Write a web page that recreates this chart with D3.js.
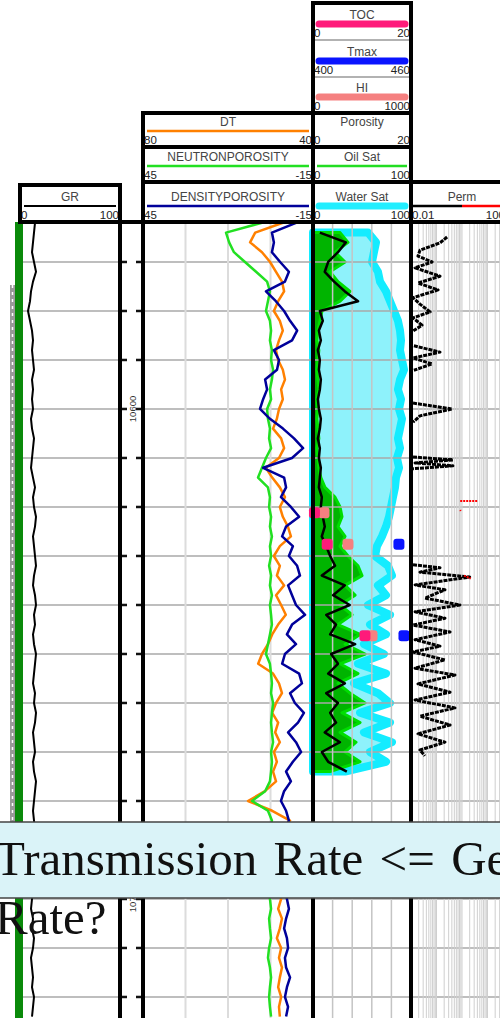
<!DOCTYPE html>
<html>
<head>
<meta charset="utf-8">
<title>Well log</title>
<script src="https://cdn.jsdelivr.net/npm/d3@7/dist/d3.min.js"></script>
<style>
  html, body { margin: 0; padding: 0; background: #fff; overflow: hidden; }
  svg { display: block; }
</style>
</head>
<body>
<div id="chart"></div>
<script>
// curve names, header scales
const curveNames = ["GR", "DT", "NEUTRONPOROSITY", "DENSITYPOROSITY", "TOC", "Tmax", "HI", "Porosity", "Oil Sat", "Water Sat", "Perm"];
const scaleLeft  = [0, 80, 45, 45, 0, 400, 0, 0, 0, 0, 0.01];
const scaleRight = [100, 40, -15, -15, 20, 460, 1000, 20, 100, 100, 100];

// depth axis (ft)
const depthTop = 10561.84, depthBase = 10724.29;
const depthTicks = [10570, 10580, 10590, 10600, 10610, 10620, 10630, 10640, 10650, 10660, 10670, 10680, 10690, 10700, 10710, 10720];
const depthLabels = [10600, 10700];

// open hole logs, sampled every 2 ft
const depth = [10562,10564,10566,10568,10570,10572,10574,10576,10578,10580,
  10582,10584,10586,10588,10590,10592,10594,10596,10598,10600,
  10602,10604,10606,10608,10610,10612,10614,10616,10618,10620,
  10622,10624,10626,10628,10630,10632,10634,10636,10638,10640,
  10642,10644,10646,10648,10650,10652,10654,10656,10658,10660,
  10662,10664,10666,10668,10670,10672,10674,10676,10678,10680,
  10682,10684,10686,10688,10690,10692,10694,10696,10698,10700,
  10702,10704,10706,10708,10710,10712,10714,10716,10718,10720,
  10722,10724];
const gr = [15,14,13,12,14,16,13,11,10,8,
  10,12,13,12,13,14,12,13,12,13,
  11,12,14,13,12,11,13,15,13,14,
  16,15,13,14,15,16,14,13,15,16,
  14,15,13,14,16,15,14,13,15,14,
  16,15,13,14,15,13,14,16,15,14,
  13,14,15,13,14,12,13,14,13,12,
  11,13,12,14,13,11,12,13,12,14,
  13,12];
const dt = [47.1,53.6,54.8,52.0,50.1,48.7,47.3,46.8,48.2,49.2,
  47.8,47.1,48.0,48.7,48.2,47.1,46.6,47.5,47.1,48.0,
  48.5,49.4,47.5,46.8,48.0,51.1,49.6,47.8,46.6,47.8,
  47.1,45.9,45.2,47.8,49.2,47.8,48.5,46.8,48.7,47.5,
  46.4,48.2,49.6,50.6,52.0,52.9,49.4,48.0,47.3,48.7,
  49.6,48.2,48.9,47.8,49.2,48.5,49.4,48.7,51.3,55.3,
  49.6,45.4,47.3,48.0,47.5,48.2,47.8,47.3,48.0,47.5,
  48.2,47.3,47.8,48.5,47.5,48.0,47.3,47.8,48.2,47.5,
  48.0,47.8];
const nphi = [3.0,15.7,14.6,12.9,9.0,5.1,1.2,0.2,0.9,1.6,
  0.2,-0.2,0.2,-0.5,-0.2,-0.9,-0.5,0.2,-0.2,1.2,
  0.9,0.2,0.5,-0.2,1.6,3.0,4.4,0.9,0.2,0.5,
  -0.2,0.2,-0.5,0.2,-0.2,0.5,-0.2,0.2,-0.5,0.2,
  -0.2,-0.5,0.2,0.9,1.6,0.2,-0.2,-0.5,-0.2,-0.9,
  -0.5,-0.2,-0.5,-0.9,-0.2,-0.5,-0.2,0.2,1.9,6.5,
  0.9,-0.5,0.2,-0.2,0.5,0.2,-0.5,0.2,0.9,0.2,
  -0.2,0.5,0.2,-0.2,0.5,0.9,0.2,-0.2,0.2,0.5,
  0.2,-0.2];
const dphi = [-9.0,-0.5,-1.2,-0.5,-3.4,-6.5,-5.1,1.6,-1.9,-4.8,
  -6.9,-9.4,-7.6,-1.2,-3.0,-2.3,1.9,1.2,2.6,3.7,
  0.2,-4.4,-8.3,-11.5,-7.6,2.6,-4.8,-5.5,-3.7,-7.2,
  -10.1,-5.5,-4.1,-7.9,-6.5,-9.4,-10.4,-6.2,-7.6,-9.0,
  -12.2,-7.6,-5.8,-9.0,-5.1,-4.1,-10.1,-11.1,-6.9,-8.6,
  -11.8,-9.7,-6.2,-9.0,-10.8,-7.9,-5.5,-7.2,-4.8,-3.7,
  -5.5,-6.5,-5.1,-6.2,-5.8,-6.9,-5.5,-6.2,-5.1,-5.8,
  -6.5,-5.5,-4.8,-5.8,-6.2,-5.1,-5.5,-6.9,-5.8,-5.1,
  -6.2,-5.5];

// petrophysical interpretation, every 2 ft
const coreDepth = [10564,10566,10568,10570,10572,10574,10576,10578,10580,10582,
  10584,10586,10588,10590,10592,10594,10596,10598,10600,10602,
  10604,10606,10608,10610,10612,10614,10616,10618,10620,10622,
  10624,10626,10628,10630,10632,10634,10636,10638,10640,10642,
  10644,10646,10648,10650,10652,10654,10656,10658,10660,10662,
  10664,10666,10668,10670,10672,10674];
const waterSat = [56.1,64.3,62.2,60.2,66.3,68.4,74.5,78.6,82.7,86.7,
  88.8,89.8,88.8,90.8,92.9,88.8,86.7,89.8,87.8,90.8,
  88.8,86.7,88.8,85.7,87.8,84.7,83.7,81.6,79.6,77.6,
  74.5,70.4,65.3,63.3,76.5,80.6,66.3,74.5,56.1,78.6,
  58.2,74.5,52.0,72.4,45.9,74.5,41.8,66.3,78.6,48.0,
  78.6,52.0,80.6,58.2,74.5,32.7];
const oilSat = [27.6,35.7,22.4,32.7,17.3,25.5,37.8,27.6,9.2,7.1,
  5,4,6,5,4,5,6,4,5,4,
  5,6,4,5,6,8,12.2,22.4,27.6,29.6,
  25.5,32.7,27.6,35.7,45.9,50.0,32.7,42.9,27.6,39.8,
  25.5,48.0,32.7,53.1,27.6,45.9,25.5,37.8,53.1,29.6,
  48.0,27.6,43.9,32.7,48.0,17.3];
const porosity = [1.4,6.7,5.1,3.1,2.4,4.3,6.5,9.2,1.4,2.0,
  1.2,1.6,1.0,1.4,1.2,1.6,1.4,1.0,1.2,1.6,
  1.4,1.0,1.4,1.2,1.6,1.4,1.2,1.8,1.6,2.0,
  2.4,1.8,2.7,3.5,4.5,1.8,6.5,4.1,7.5,2.7,
  4.7,3.5,8.6,3.7,5.1,3.1,6.5,2.7,5.1,3.5,
  4.7,2.4,5.5,1.8,3.1,6.9];

// geochemistry samples
const tocDepth = [10621.2, 10627.6, 10646.3];
const toc = [0.3, 2.9, 10.6];
const hiDepth = [10621.2, 10627.6, 10646.3];
const hi = [112, 357, 602];
const tmaxDepth = [10627.6, 10646.3];
const tmax = [452.6, 455.7];

// permeability (null = gap)
const permDepth = [10564.9,10566.1,10567.6,10568.8,10570.0,10571.2,10572.9,10574.3,10575.7,10577.3,10578.6,10580.2,10581.4,10582.9,10584.1,null,
  10587.1,10588.4,10589.6,10590.8,10592.1,null,
  10598.8,10600.0,10601.4,10602.7,null,
  10609.8,10610.4,10611.0,10611.6,10612.2,null,
  10631.8,10632.4,10633.3,10634.3,10635.9,10636.9,10638.6,10640.0,10641.4,10642.7,10644.1,10645.5,10647.1,10648.4,10649.6,
  10651.2,10652.9,10654.3,10656.1,10657.8,10659.4,10661.0,10662.7,10664.5,10666.3,10668.0,10669.6,10670.8];
const perm = [0.26,0.137,0.0225,0.0188,0.067,0.0144,0.137,0.0188,0.115,0.012,0.0225,0.056,0.012,0.027,0.012,null,
  0.013,0.137,0.012,0.067,0.013,null,
  0.012,0.41,0.0225,0.012,null,
  0.012,0.44,0.0144,0.44,0.012,null,
  0.012,0.137,0.0225,2.0,0.0144,0.215,0.035,0.83,0.0144,0.215,0.012,0.34,0.0144,0.137,0.012,
  0.215,0.0144,0.53,0.0188,0.34,0.0144,0.53,0.0225,0.34,0.0188,0.215,0.0225,0.035];
const perm2Depth = [10618.8, 10618.8, null, 10620.6, 10620.8, null, 10634.0, 10634.6];
const perm2 = [0.85, 4.2, null, 0.85, 0.9, null, 1.2, 2.2];

// flag columns left of GR
const flagGreen = [10561.84, 10724.29];
const flagGray = [10574.7, 10692.0];

const width = 500, height = 1018;
const sans = "'Liberation Sans', Arial, sans-serif";

const svg = d3.select("#chart").append("svg")
  .attr("width", width)
  .attr("height", height);

svg.append("rect").attr("width", width).attr("height", height).attr("fill", "#fff");

const y = d3.scaleLinear().domain([depthTop, depthBase]).range([222, 1018]);

// header boxes: x0, x1, top, bottom, line colour, line width
const boxes = {
  "GR": [20, 120, 185, 222, "#000", 2],
  "DT": [143, 313, 113, 147, "#ff8000", 2.5],
  "NEUTRONPOROSITY": [143, 313, 147, 182, "#22e022", 2.5],
  "DENSITYPOROSITY": [143, 313, 182, 222, "#00009a", 2.5],
  "TOC": [313, 411, 3, 40, "#ff1a7a", 7],
  "Tmax": [313, 411, 40, 77, "#0a14ff", 7],
  "HI": [313, 411, 77, 113, "#f58080", 7],
  "Porosity": [313, 411, 113, 147, "#000", 0],
  "Oil Sat": [313, 411, 147, 182, "#22dd22", 2.5],
  "Water Sat": [313, 411, 182, 222, "#22eeff", 7],
  "Perm": [411, 513, 182, 222, "#000", 2.5]
};

const x = {};
curveNames.forEach((n, i) => {
  const b = boxes[n];
  x[n] = (n === "Perm" ? d3.scaleLog() : d3.scaleLinear())
    .domain([scaleLeft[i], scaleRight[i]])
    .range([b[0], b[1]]);
});

// flag columns
svg.append("rect")
  .attr("x", 15).attr("width", 8)
  .attr("y", y(flagGreen[0])).attr("height", y(flagGreen[1]) - y(flagGreen[0]))
  .attr("fill", "#0a8a0a");
svg.append("rect")
  .attr("x", 10).attr("width", 5)
  .attr("y", y(flagGray[0])).attr("height", y(flagGray[1]) - y(flagGray[0]))
  .attr("fill", "#999");
svg.append("line")
  .attr("x1", 12.5).attr("x2", 12.5)
  .attr("y1", y(flagGray[0])).attr("y2", y(flagGray[1]))
  .attr("stroke", "#fff").attr("stroke-width", 1.5).attr("stroke-dasharray", "3,4");

// saturation fills
const core = coreDepth.map((d, i) => ({d, sw: waterSat[i], so: oilSat[i], phi: porosity[i]}));

svg.append("path")
  .datum(core)
  .attr("d", d3.area().y(d => y(d.d)).x0(x["Water Sat"](0)).x1(d => x["Water Sat"](d.sw)))
  .attr("fill", "#8ef2fb")
  .attr("stroke", "#14ecff")
  .attr("stroke-width", 8)
  .attr("stroke-linejoin", "round");

svg.append("path")
  .datum(core)
  .attr("d", d3.area().y(d => y(d.d)).x0(x["Oil Sat"](0)).x1(d => x["Oil Sat"](d.so)))
  .attr("fill", "#00b400")
  .attr("stroke", "#00de00")
  .attr("stroke-width", 3)
  .attr("stroke-linejoin", "round");

// gridlines
const grid = svg.append("g");
const hSegments = [[23, 120], [143, 313], [313, 411], [411, 513]];
depthTicks.forEach(d => {
  hSegments.forEach(s => {
    grid.append("line")
      .attr("x1", s[0]).attr("x2", s[1])
      .attr("y1", y(d)).attr("y2", y(d))
      .attr("stroke", "#a8a8a8").attr("stroke-width", 1.5);
  });
});
[30, 15, 0].forEach(v => {
  grid.append("line")
    .attr("x1", x["NEUTRONPOROSITY"](v)).attr("x2", x["NEUTRONPOROSITY"](v))
    .attr("y1", 222).attr("y2", 1018)
    .attr("stroke", "#dcdcdc").attr("stroke-width", 2);
});
[20, 40, 60, 80].forEach(v => {
  grid.append("line")
    .attr("x1", x["Water Sat"](v)).attr("x2", x["Water Sat"](v))
    .attr("y1", 222).attr("y2", 1018)
    .attr("stroke", "#c4c4c4").attr("stroke-width", 1.5);
});
x["Perm"].ticks().forEach(v => {
  grid.append("line")
    .attr("x1", x["Perm"](v)).attr("x2", x["Perm"](v))
    .attr("y1", 222).attr("y2", 1018)
    .attr("stroke", "#cfcfcf").attr("stroke-width", 1);
});

// log curves
const logs = depth.map((d, i) => ({d, gr: gr[i], dt: dt[i], nphi: nphi[i], dphi: dphi[i]}));

function curve(data, key, scale, color, w, dash) {
  svg.append("path")
    .datum(data)
    .attr("d", d3.line()
      .defined(d => d[key] != null && d.d != null)
      .x(d => scale(d[key]))
      .y(d => y(d.d)))
    .attr("fill", "none")
    .attr("stroke", color)
    .attr("stroke-width", w)
    .attr("stroke-linejoin", "round")
    .attr("stroke-dasharray", dash || null);
}

curve(logs, "gr", x["GR"], "#000", 2);
curve(logs, "dt", x["DT"], "#ff8000", 2.5);
curve(logs, "nphi", x["NEUTRONPOROSITY"], "#22e022", 2.5);
curve(logs, "dphi", x["DENSITYPOROSITY"], "#00009a", 2.5);
curve(core, "phi", x["Porosity"], "#000", 2.5);

const permData = permDepth.map((d, i) => ({d, k: perm[i]}));
curve(permData, "k", x["Perm"], "#000", 3, "4,1");
const perm2Data = perm2Depth.map((d, i) => ({d, k: perm2[i]}));
curve(perm2Data, "k", x["Perm"], "#ff0000", 2, "2,1");

// geochem markers
function markers(depths, vals, scale, color) {
  svg.append("g").selectAll("rect")
    .data(depths.map((d, i) => ({d, v: vals[i]})))
    .join("rect")
    .attr("x", d => scale(d.v) - 5.5)
    .attr("y", d => y(d.d) - 5.5)
    .attr("width", 11).attr("height", 11)
    .attr("rx", 3)
    .attr("fill", color);
}
markers(hiDepth, hi, x["HI"], "#f58080");
markers(tocDepth, toc, x["TOC"], "#ff1a7a");
markers(tmaxDepth, tmax, x["Tmax"], "#0a14ff");

// depth track
const depthG = svg.append("g");
depthTicks.forEach(d => {
  [[120, 127], [136, 143]].forEach(s => {
    depthG.append("line")
      .attr("x1", s[0]).attr("x2", s[1])
      .attr("y1", y(d)).attr("y2", y(d))
      .attr("stroke", "#111").attr("stroke-width", 2.5);
  });
});
depthLabels.forEach(d => {
  depthG.append("text")
    .attr("transform", `translate(132,${y(d)}) rotate(-90)`)
    .attr("text-anchor", "middle")
    .attr("dominant-baseline", "central")
    .attr("font-family", sans)
    .attr("font-size", 9.5)
    .attr("fill", "#333")
    .text(d);
});

// headers
const head = svg.append("g");
curveNames.forEach((n, i) => {
  const [x0, x1, t, b, color, lw] = boxes[n];
  head.append("rect").attr("x", x0).attr("y", t).attr("width", x1 - x0).attr("height", b - t).attr("fill", "#fff");
  head.append("text")
    .attr("x", (x0 + x1) / 2).attr("y", b - 25)
    .attr("text-anchor", "middle").attr("dominant-baseline", "central")
    .attr("font-family", sans).attr("font-size", 12).attr("fill", "#444")
    .text(n);
  if (n === "Perm") {
    head.append("line").attr("x1", x0 + 2).attr("x2", (x0 + x1) / 2).attr("y1", b - 16).attr("y2", b - 16)
      .attr("stroke", "#000").attr("stroke-width", lw);
    head.append("line").attr("x1", (x0 + x1) / 2).attr("x2", x1 - 2).attr("y1", b - 16).attr("y2", b - 16)
      .attr("stroke", "#ff0000").attr("stroke-width", lw);
  } else if (lw > 0) {
    head.append("line")
      .attr("x1", x0 + (lw > 5 ? 6 : 4)).attr("x2", x1 - (lw > 5 ? 6 : 4))
      .attr("y1", b - 16).attr("y2", b - 16)
      .attr("stroke", color).attr("stroke-width", lw)
      .attr("stroke-linecap", lw > 5 ? "round" : "butt");
  }
  head.append("text")
    .attr("x", x0 + 1).attr("y", b - 7)
    .attr("dominant-baseline", "central")
    .attr("font-family", sans).attr("font-size", 11.5).attr("fill", "#222")
    .text(String(scaleLeft[i]));
  head.append("text")
    .attr("x", n === "Perm" ? x1 - 8 : x1 - 1).attr("y", b - 7)
    .attr("text-anchor", "end").attr("dominant-baseline", "central")
    .attr("font-family", sans).attr("font-size", 11.5).attr("fill", "#222")
    .text(String(scaleRight[i]));
});

// frame
const frame = svg.append("g").attr("stroke", "#000").attr("stroke-width", 4).attr("stroke-linecap", "square");
const hLines = [[313, 411, 3], [143, 411, 113], [143, 411, 147], [143, 513, 182], [20, 120, 185], [20, 513, 222]];
hLines.forEach(l => frame.append("line").attr("x1", l[0]).attr("x2", l[1]).attr("y1", l[2]).attr("y2", l[2]));
const vLines = [[20, 185, 222], [120, 185, 1030], [143, 113, 1030], [313, 3, 1030], [411, 3, 1030]];
vLines.forEach(l => frame.append("line").attr("x1", l[0]).attr("x2", l[0]).attr("y1", l[1]).attr("y2", l[2]));
[40, 77].forEach(v => {
  svg.append("line").attr("x1", 315).attr("x2", 409).attr("y1", v).attr("y2", v)
    .attr("stroke", "#999").attr("stroke-width", 1.5);
});

// question overlay
const tip = svg.append("g");
tip.append("rect")
  .attr("x", -2).attr("y", 822).attr("width", 504).attr("height", 76)
  .attr("fill", "#daf3f8").attr("stroke", "#444").attr("stroke-width", 1.5);
tip.append("text")
  .attr("x", -5).attr("y", 875)
  .attr("font-family", "'Liberation Serif', 'Times New Roman', serif")
  .attr("font-size", 49).attr("word-spacing", 4).attr("fill", "#111")
  .text("Transmission Rate <= Generation");
tip.append("text")
  .attr("x", -5).attr("y", 934)
  .attr("font-family", "'Liberation Serif', 'Times New Roman', serif")
  .attr("font-size", 49).attr("fill", "#111")
  .text("Rate?");
</script>
</body>
</html>
